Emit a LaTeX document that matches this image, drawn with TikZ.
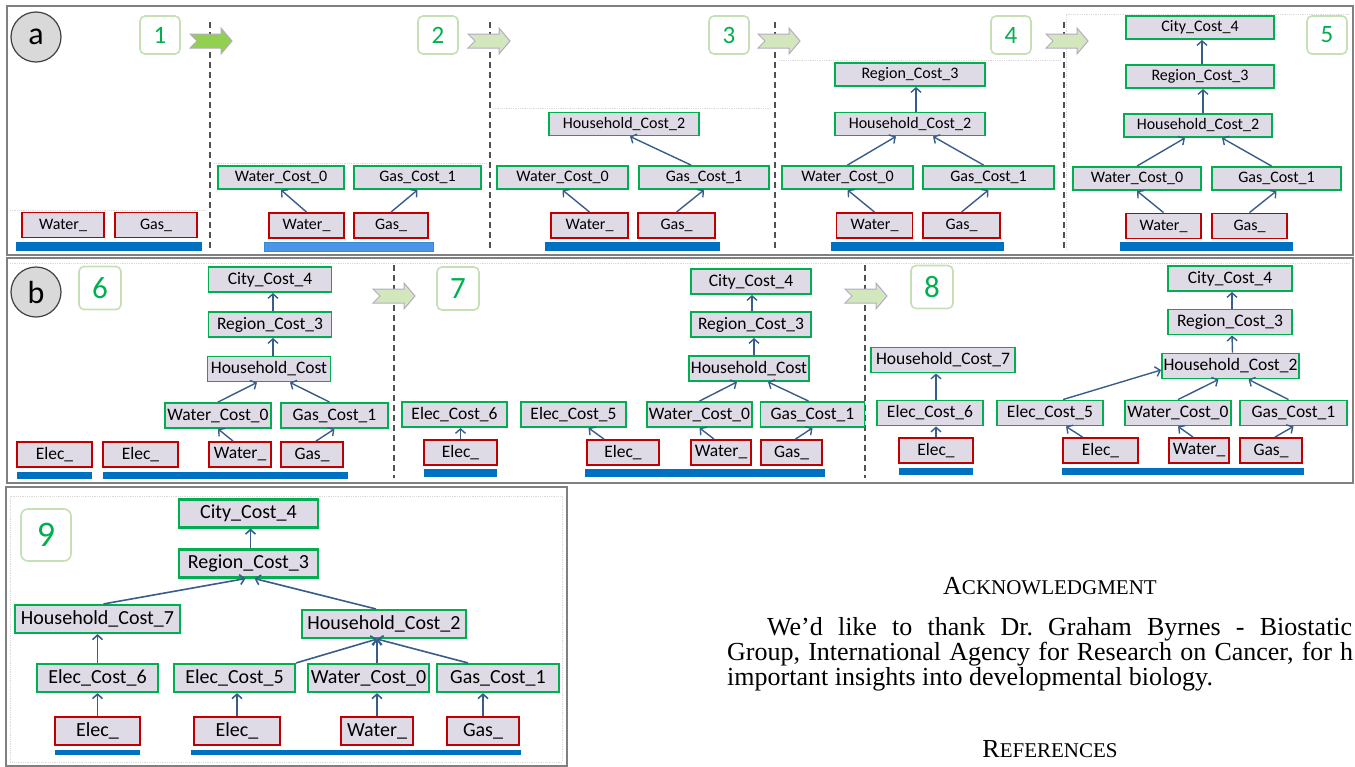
\documentclass[tikz,border=0pt]{standalone}
\usepackage{fontspec}
\setmainfont{Liberation Serif}
\newfontfamily\boxfont{Carlito}
\usepackage{tikz}
\usetikzlibrary{arrows.meta}

\definecolor{boxfill}{RGB}{222,218,230}
\definecolor{costgreen}{RGB}{0,176,80}
\definecolor{datared}{RGB}{192,0,0}
\definecolor{linkblue}{RGB}{56,93,138}
\definecolor{barblue}{RGB}{0,112,192}
\definecolor{barlight}{RGB}{75,148,232}
\definecolor{numedge}{RGB}{197,224,180}
\definecolor{stepdark}{RGB}{146,208,80}
\definecolor{steplight}{RGB}{210,232,188}
\definecolor{arrowedge}{RGB}{180,170,200}
\definecolor{framegray}{RGB}{128,128,128}
\definecolor{sepgray}{RGB}{80,80,80}
\definecolor{taggray}{RGB}{217,217,217}
\definecolor{tagedge}{RGB}{64,64,64}

\begin{document}
\begin{tikzpicture}[
    x=1pt, y=-1pt,
    box/.style={fill=boxfill, line width=1.9pt, inner sep=0pt, minimum height=24, font=\boxfont\fontsize{16}{18}\selectfont},
    cost/.style={box, draw=costgreen},
    data/.style={box, draw=datared},
    link/.style={draw=linkblue, line width=1.4pt, -{Straight Barb[length=4.5pt, width=10pt]}},
    numbox/.style={draw=numedge, line width=1.6pt, fill=white, rounded corners=5pt, text=costgreen, inner sep=0pt, minimum width=40, minimum height=38, font=\boxfont\fontsize{25}{25}\selectfont},
    tag/.style={circle, draw=tagedge, fill=taggray, line width=1.2pt, minimum size=50, inner sep=0pt, font=\boxfont\fontsize{32}{32}\selectfont},
    panel/.style={draw=framegray, line width=2.8pt},
    sep/.style={draw=sepgray, line width=1.8pt, dash pattern=on 6pt off 4pt},
    guide/.style={draw=black!15, densely dotted, line width=0.8pt},
    para/.style={inner sep=0pt, font=\fontsize{26}{25}\selectfont\frenchspacing}
]
\useasboundingbox (0,0) rectangle (1355,766);
\clip (0,0) rectangle (1355,766);

% Panel frames and faint guides
\draw[panel] (7,6) rectangle (1353,255);
\draw[panel] (7,258) rectangle (1353,483);
\draw[panel] (6,487) rectangle (567,766);
\draw[guide] (10,210) -- (205,210);
\draw[guide] (214,163) -- (486,163);
\draw[guide] (493,108) -- (772,108);
\draw[guide] (779,60) -- (1060,60);
\draw[guide] (1066,250) -- (1066,14) -- (1350,14);
\draw[guide] (10,263) -- (1350,263);
\draw[guide] (10,496) rectangle (562,762);

% Stage separators
\foreach \x in {210,490,775,1064}
    \draw[sep] (\x,22) -- (\x,250);
\foreach \x in {394,865}
    \draw[sep] (\x,265) -- (\x,478);

% Step arrows
\foreach \x/\y/\c in {190/41/stepdark, 468/41/steplight, 758/41/steplight, 1046/41/steplight, 373/296/steplight, 845/296/steplight}
    \filldraw[draw=arrowedge, line width=1pt, fill=\c, shift={(\x,\y)}] (0,-7) -- (31,-7) -- (31,-13) -- (42,0) -- (31,13) -- (31,7) -- (0,7) -- (7,0) -- cycle;

% Panel tags
\node[tag] (taga) at (36,37) {a};
\node[tag] (tagb) at (36,292) {b};

% ---------------- panel a ----------------
\begin{scope}[cost/.append style={minimum height=23}, data/.append style={minimum height=25}]
\node[numbox] (n1) at (160,35) {1};
\node[numbox] (n2) at (438,35) {2};
\node[numbox] (n3) at (729,35) {3};
\node[numbox] (n4) at (1011,35) {4};
\node[numbox] (n5) at (1327,35) {5};

% stage 1
\node[data, minimum width=82] (a1w) at (63,225) {Water\_};
\node[data, minimum width=82] (a1g) at (156,225) {Gas\_};
\fill[barblue] (16,242) rectangle (202,251);

% stage 2
\node[cost, minimum width=126] (a2wc) at (281,177.5) {Water\_Cost\_0};
\node[cost, minimum width=127] (a2gc) at (417.5,177.5) {Gas\_Cost\_1};
\node[data, minimum width=75] (a2w) at (306.5,225.5) {Water\_};
\node[data, minimum width=74] (a2g) at (391,225.5) {Gas\_};
\filldraw[fill=barlight, draw=barblue!80] (264,242) rectangle (433,251);
\draw[link] (a2w.north) -- (a2wc.south);
\draw[link] (a2g.north) -- (a2gc.south);

% stage 3
\node[cost, minimum width=150] (a3h) at (624,124) {Household\_Cost\_2};
\node[cost, minimum width=131] (a3wc) at (562.5,177.5) {Water\_Cost\_0};
\node[cost, minimum width=130] (a3gc) at (704,177.5) {Gas\_Cost\_1};
\node[data, minimum width=77] (a3w) at (589.5,225.5) {Water\_};
\node[data, minimum width=77] (a3g) at (676.5,225.5) {Gas\_};
\fill[barblue] (545,242) rectangle (720,251);
\draw[link] (a3w.north) -- (a3wc.south);
\draw[link] (a3g.north) -- (a3gc.south);
\draw[link] ([xshift=-13pt]a3gc.north) -- ([xshift=6pt]a3h.south);

% stage 4
\node[cost, minimum width=150] (a4r) at (910,74.5) {Region\_Cost\_3};
\node[cost, minimum width=150] (a4h) at (910,124) {Household\_Cost\_2};
\node[cost, minimum width=131] (a4wc) at (847.5,177.5) {Water\_Cost\_0};
\node[cost, minimum width=131] (a4gc) at (988.5,177.5) {Gas\_Cost\_1};
\node[data, minimum width=76] (a4w) at (874.5,225.5) {Water\_};
\node[data, minimum width=77] (a4g) at (961.5,225.5) {Gas\_};
\fill[barblue] (831,242) rectangle (1004,251);
\draw[link] (a4w.north) -- (a4wc.south);
\draw[link] (a4g.north) -- (a4gc.south);
\draw[link] (a4wc.north) -- ([xshift=-14pt]a4h.south);
\draw[link] ([xshift=-5pt]a4gc.north) -- ([xshift=23pt]a4h.south);
\draw[link] ([xshift=6pt]a4h.north) -- ([xshift=6pt]a4r.south);

% stage 5
\node[cost, minimum width=148] (a5c) at (1200,27.5) {City\_Cost\_4};
\node[cost, minimum width=148] (a5r) at (1200,76.5) {Region\_Cost\_3};
\node[cost, minimum width=148] (a5h) at (1198,125.5) {Household\_Cost\_2};
\node[cost, minimum width=128] (a5wc) at (1137,178.5) {Water\_Cost\_0};
\node[cost, minimum width=129] (a5gc) at (1276.5,178.5) {Gas\_Cost\_1};
\node[data, minimum width=75] (a5w) at (1163.5,226) {Water\_};
\node[data, minimum width=75] (a5g) at (1249.5,226) {Gas\_};
\fill[barblue] (1120,242) rectangle (1293,251);
\draw[link] (a5w.north) -- (a5wc.south);
\draw[link] (a5g.north) -- (a5gc.south);
\draw[link] (a5wc.north) -- ([xshift=-13pt]a5h.south);
\draw[link] ([xshift=-5pt]a5gc.north) -- ([xshift=24pt]a5h.south);
\draw[link] ([xshift=5pt]a5h.north) -- ([xshift=3pt]a5r.south);
\draw[link] ([xshift=2pt]a5r.north) -- ([xshift=2pt]a5c.south);
\end{scope}

% ---------------- panel b ----------------
\begin{scope}[box/.append style={minimum height=25, font=\boxfont\fontsize{17.5}{19}\selectfont},
    numbox/.append style={minimum width=42, minimum height=43, font=\boxfont\fontsize{31}{31}\selectfont}]
\node[numbox] (n6) at (100,288) {6};
\node[numbox] (n7) at (458,288.5) {7};
\node[numbox] (n8) at (932,287) {8};

% stage 6
\node[cost, minimum width=123] (b6c) at (270,279.5) {City\_Cost\_4};
\node[cost, minimum width=123] (b6r) at (270,324.5) {Region\_Cost\_3};
\node[cost, minimum width=123] (b6h) at (269,369) {Household\_Cost};
\node[cost, minimum width=106] (b6wc) at (218,415.5) {Water\_Cost\_0};
\node[cost, minimum width=107] (b6gc) at (334.5,415.5) {Gas\_Cost\_1};
\node[data, minimum width=75] (b6e1) at (54.5,454.5) {Elec\_};
\node[data, minimum width=75] (b6e2) at (140.5,454.5) {Elec\_};
\node[data, minimum width=62] (b6w) at (240,454.5) {Water\_};
\node[data, minimum width=62] (b6g) at (312,454.5) {Gas\_};
\fill[barblue] (17,472) rectangle (92,479);
\fill[barblue] (103,472) rectangle (348,479);
\draw[link] ([xshift=-7pt]b6w.north) -- (b6wc.south);
\draw[link] ([xshift=4pt]b6g.north) -- (b6gc.south);
\draw[link] (b6wc.north) -- ([xshift=-12pt]b6h.south);
\draw[link] ([xshift=-5pt]b6gc.north) -- ([xshift=21pt]b6h.south);
\draw[link] ([xshift=4pt]b6h.north) -- ([xshift=3pt]b6r.south);
\draw[link] ([xshift=3pt]b6r.north) -- ([xshift=3pt]b6c.south);

% stage 7
\node[cost, minimum width=120] (b7c) at (751,281.5) {City\_Cost\_4};
\node[cost, minimum width=120] (b7r) at (751,324.5) {Region\_Cost\_3};
\node[cost, minimum width=120] (b7h) at (749,368.5) {Household\_Cost};
\node[cost, minimum width=105] (b7e6) at (454.5,414.5) {Elec\_Cost\_6};
\node[cost, minimum width=105] (b7e5) at (573.5,414.5) {Elec\_Cost\_5};
\node[cost, minimum width=105] (b7wc) at (699.5,414.5) {Water\_Cost\_0};
\node[cost, minimum width=104] (b7gc) at (812.5,414.5) {Gas\_Cost\_1};
\node[data, minimum width=73] (b7e1) at (460.5,452.5) {Elec\_};
\node[data, minimum width=72] (b7e2) at (623,452.5) {Elec\_};
\node[data, minimum width=60] (b7w) at (721,452.5) {Water\_};
\node[data, minimum width=61] (b7g) at (791.5,452.5) {Gas\_};
\fill[barblue] (424,469) rectangle (497,477);
\fill[barblue] (585,469) rectangle (825,477);
\draw[link] (b7e1.north) -- (b7e1.north |- b7e6.south);
\draw[link] ([xshift=-19pt]b7e2.north) -- ([xshift=15pt]b7e5.south);
\draw[link] ([xshift=-7pt]b7w.north) -- (b7wc.south);
\draw[link] ([xshift=4pt]b7g.north) -- (b7gc.south);
\draw[link] (b7wc.north) -- ([xshift=-12pt]b7h.south);
\draw[link] ([xshift=-4pt]b7gc.north) -- ([xshift=19pt]b7h.south);
\draw[link] ([xshift=5pt]b7h.north) -- ([xshift=3pt]b7r.south);
\draw[link] ([xshift=1pt]b7r.north) -- ([xshift=1pt]b7c.south);

% stage 8
\node[cost, minimum width=124] (b8c) at (1230,278.5) {City\_Cost\_4};
\node[cost, minimum width=124] (b8r) at (1230,322) {Region\_Cost\_3};
\node[cost, minimum width=137] (b8h2) at (1230.5,366) {Household\_Cost\_2};
\node[cost, minimum width=144] (b8h7) at (943,360) {Household\_Cost\_7};
\node[cost, minimum width=106] (b8e6) at (930,413) {Elec\_Cost\_6};
\node[cost, minimum width=106] (b8e5) at (1050,413) {Elec\_Cost\_5};
\node[cost, minimum width=106] (b8wc) at (1178,413) {Water\_Cost\_0};
\node[cost, minimum width=107] (b8gc) at (1293.5,413) {Gas\_Cost\_1};
\node[data, minimum width=74] (b8e1) at (936,450.5) {Elec\_};
\node[data, minimum width=75] (b8e2) at (1100.5,450.5) {Elec\_};
\node[data, minimum width=60] (b8w) at (1199,450.5) {Water\_};
\node[data, minimum width=62] (b8g) at (1271,450.5) {Gas\_};
\fill[barblue] (899,468) rectangle (973,475);
\fill[barblue] (1062,468) rectangle (1304,475);
\draw[link] (b8e1.north) -- (b8e1.north |- b8e6.south);
\draw[link] (b8e6.north -| b8e1.north) -- (b8e1.north |- b8h7.south);
\draw[link] ([xshift=13pt]b8e5.north) -- ([yshift=-4pt]b8h2.west);
\draw[link] ([xshift=-18pt]b8e2.north) -- ([xshift=16pt]b8e5.south);
\draw[link] ([xshift=-6pt]b8w.north) -- (b8wc.south);
\draw[link] ([xshift=4pt]b8g.north) -- (b8gc.south);
\draw[link] (b8wc.north) -- ([xshift=-12pt]b8h2.south);
\draw[link] ([xshift=-5pt]b8gc.north) -- ([xshift=18pt]b8h2.south);
\draw[link] ([xshift=2pt]b8h2.north) -- ([xshift=2pt]b8r.south);
\draw[link] ([xshift=2pt]b8r.north) -- ([xshift=2pt]b8c.south);
\end{scope}

% ---------------- panel 9 ----------------
\begin{scope}[box/.append style={minimum height=28, line width=2.1pt, font=\boxfont\fontsize{20}{22}\selectfont},
    numbox/.append style={minimum width=50, minimum height=52, rounded corners=7pt, font=\boxfont\fontsize{36}{36}\selectfont},
    link/.append style={line width=1.6pt}]
\node[numbox] (n9) at (46,535) {9};
\node[cost, minimum width=139] (c9c) at (248.5,513.5) {City\_Cost\_4};
\node[cost, minimum width=139] (c9r) at (248.5,563.5) {Region\_Cost\_3};
\node[cost, minimum width=165] (c9h7) at (97.5,619) {Household\_Cost\_7};
\node[cost, minimum width=164] (c9h2) at (384,624) {Household\_Cost\_2};
\node[cost, minimum width=121] (c9e6) at (97.5,678) {Elec\_Cost\_6};
\node[cost, minimum width=121] (c9e5) at (234.5,678) {Elec\_Cost\_5};
\node[cost, minimum width=121] (c9wc) at (368.5,678) {Water\_Cost\_0};
\node[cost, minimum width=122] (c9gc) at (498,678) {Gas\_Cost\_1};
\node[data, minimum width=85] (c9e1) at (97.5,731) {Elec\_};
\node[data, minimum width=86] (c9e2) at (237,731) {Elec\_};
\node[data, minimum width=72] (c9w) at (377,731) {Water\_};
\node[data, minimum width=72] (c9g) at (483,731) {Gas\_};
\fill[barblue] (55,750) rectangle (140,755);
\fill[barblue] (191,750) rectangle (521,755);
\draw[link] (c9e1.north) -- (c9e6.south);
\draw[link] (c9e2.north) -- (c9e2.north |- c9e5.south);
\draw[link] (c9w.north) -- (c9w.north |- c9wc.south);
\draw[link] (c9g.north) -- (c9g.north |- c9gc.south);
\draw[link] (c9e6.north) -- (c9h7.south);
\draw[link] (c9e5.north east) -- ([xshift=-7pt]c9h2.south);
\draw[link] (c9wc.north -| c9w.north) -- ([xshift=-7pt]c9h2.south);
\draw[link] ([xshift=-30pt]c9gc.north) -- ([xshift=-7pt]c9h2.south);
\draw[link] ([xshift=6pt]c9h7.north) -- ([xshift=-3pt]c9r.south);
\draw[link] ([xshift=-8pt]c9h2.north) -- ([xshift=6pt]c9r.south);
\draw[link] ([xshift=2pt]c9r.north) -- ([xshift=2pt]c9c.south);
\end{scope}

% Page text beside panel 9
\node[para, anchor=base] (ackhead) at (1050,594) {A{\fontsize{21}{25}\selectfont CKNOWLEDGMENT}};
\node[para, anchor=base west] (ackline1) at (767,635) {\makebox[585pt][s]{We’d like to thank Dr. Graham Byrnes - Biostatic}};
\node[para, anchor=base west] (ackline2) at (727,660) {\makebox[626pt][s]{Group, International Agency for Research on Cancer, for h}};
\node[para, anchor=base west] (ackline3) at (727,685) {important insights into developmental biology.};
\node[para, anchor=base] (refhead) at (1050,757) {R{\fontsize{21}{25}\selectfont EFERENCES}};
\end{tikzpicture}
\end{document}
